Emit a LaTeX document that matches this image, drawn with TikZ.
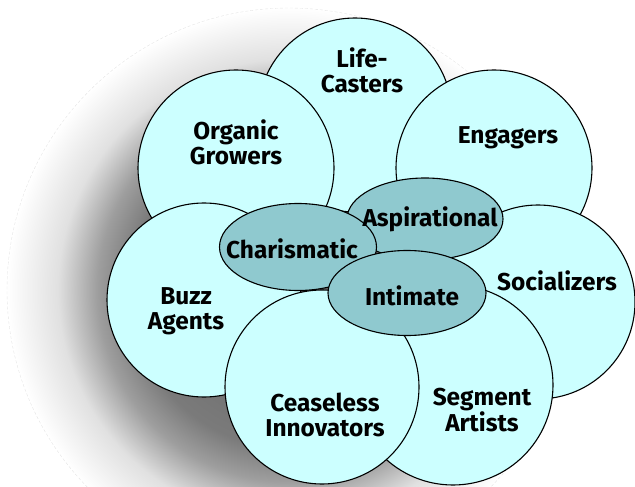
\documentclass[tikz,border=0pt]{standalone}
\usepackage{fontspec}
\setmainfont{Fira Sans}
\usepackage{tikz}
\usetikzlibrary{shapes.geometric}
\usepackage{xcolor}

\definecolor{paleaqua}{RGB}{204,255,255}
\definecolor{tealgrey}{RGB}{143,201,207}
\newcommand\segfont{\fontsize{24.5}{25}\selectfont\bfseries}
% the path edge sits at 25bp of the shading
\pgfdeclareradialshading{dropshade}{\pgfpoint{0bp}{0bp}}{%
  color(0bp)=(black!62); color(14bp)=(black!52); color(17bp)=(black!38);
  color(20.5bp)=(black!12); color(25bp)=(white); color(50bp)=(white)}

\begin{document}
\begin{tikzpicture}[x=1bp,y=-1bp,
    seg/.style={circle,draw,line width=1.1bp,fill=paleaqua,inner sep=0pt},
    core/.style={ellipse,draw,line width=1.1bp,fill=tealgrey,inner sep=0pt},
    lbl/.style={align=center,font=\segfont}]
    \useasboundingbox (0,0) rectangle (635,487);
    % soft shadow behind the whole cluster
    \shade[shading=dropshade] (289,290) circle (282);
    \draw[black!10,densely dashed,line width=0.4bp] (289,290) circle (282);
    % outer segments, drawn back to front
    \foreach \id/\x/\y/\d in {lc/355/115/194, og/236/168/196, en/494/168/196,
        bz/204/300/194, so/538/302/194, sa/453/385/200, ci/322/387/194}{
        \node[seg,minimum size=\d bp] (\id) at (\x,\y) {};
    }
    \node[lbl] (lcText) at (362,70)  {Life-\\Casters};
    \node[lbl] (ogText) at (236,142) {Organic\\Growers};
    \node[lbl] (enText) at (508,138) {Engagers};
    \node[lbl] (bzText) at (186,311) {Buzz\\Agents};
    \node[lbl] (soText) at (557,281) {Socializers};
    \node[lbl] (saText) at (482,410) {Segment\\Artists};
    \node[lbl] (ciText) at (325,415) {Ceaseless\\Innovators};
    % inner core
    \node[core,minimum width=156bp,minimum height=82bp] (asp) at (425,219) {};
    \node[core,minimum width=157bp,minimum height=87bp] (cha) at (298,247) {};
    \node[core,minimum width=158bp,minimum height=85bp] (int) at (407,293) {};
    \node[lbl] (aspText) at (430,219) {Aspirational};
    \node[lbl] (chaText) at (292,249) {Charismatic};
    \node[lbl] (intText) at (412,296) {Intimate};
\end{tikzpicture}
\end{document}
